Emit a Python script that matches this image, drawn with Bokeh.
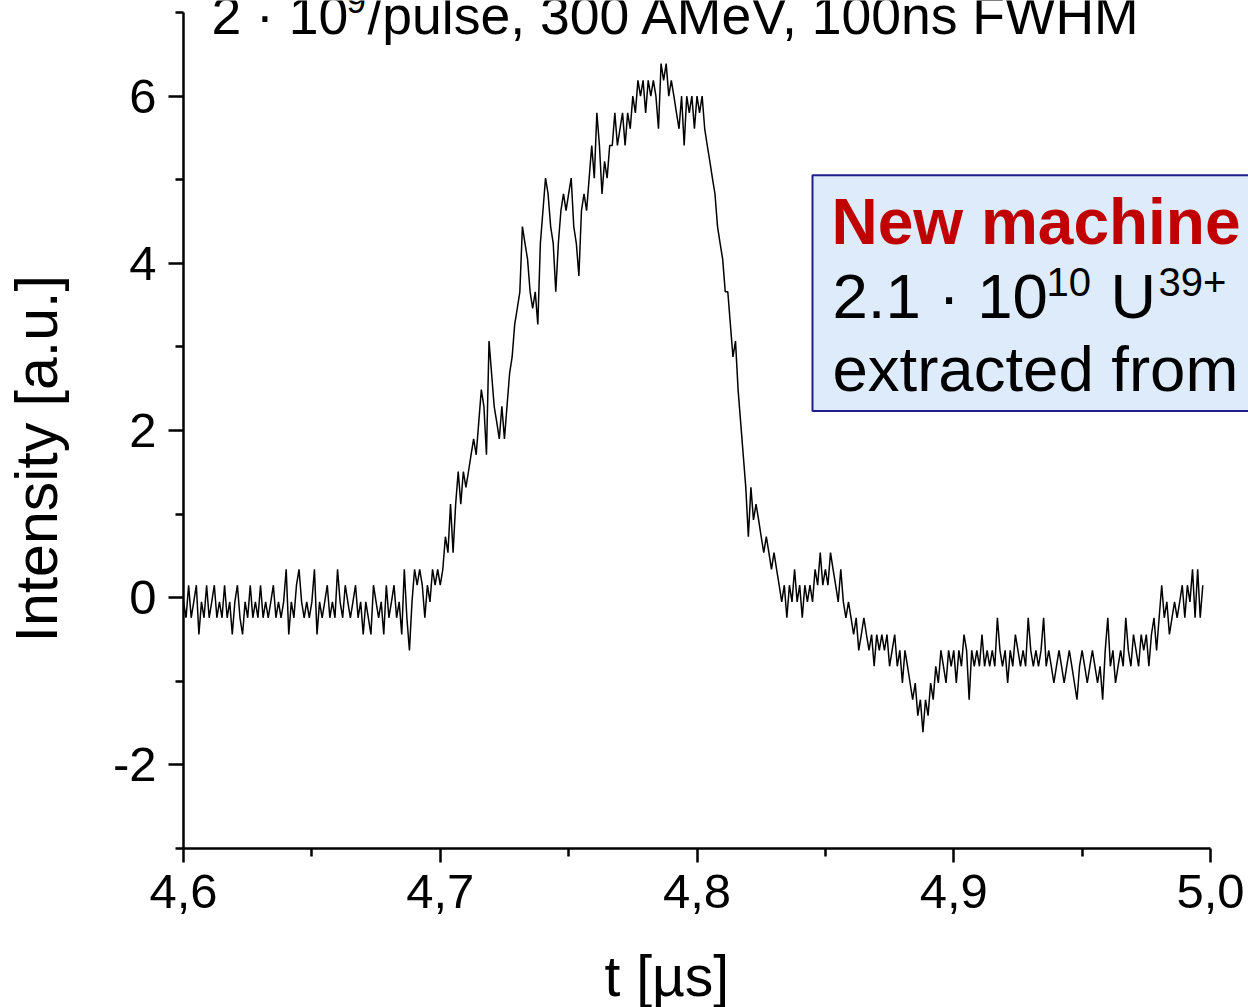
from bokeh.plotting import figure
from bokeh.models import Range1d, FixedTicker, CustomJSTickFormatter, Label, BoxAnnotation, Title, LinearAxis
from bokeh.embed import file_html
from bokeh.resources import INLINE

# ---------------- data ----------------
t_start = 4.600          # µs, first sample
t_step = 0.001           # µs, sample spacing

intensity = [
    -0.05, -0.24, 0.15, -0.24, -0.05, 0.15, -0.44, -0.05, -0.24, 0.15,
    -0.24, -0.05, 0.15, -0.24, -0.05, -0.24, 0.15, -0.24, -0.05, -0.44,
    -0.05, 0.15, -0.24, -0.44, -0.05, -0.24, 0.15, -0.24, -0.05, -0.24,
    0.15, -0.24, -0.05, -0.24, -0.05, 0.15, -0.24, -0.05, -0.24, -0.05,
    0.34, -0.44, -0.05, -0.24, 0.15, 0.34, -0.05, -0.24, -0.05, -0.24,
    -0.05, 0.34, -0.44, -0.05, -0.24, -0.05, 0.15, -0.24, -0.05, -0.24,
    0.34, -0.05, -0.24, 0.15, -0.05, -0.24, -0.05, 0.15, -0.24, -0.05,
    -0.44, -0.05, -0.24, -0.44, 0.15, -0.05, -0.24, -0.05, -0.44, 0.15,
    -0.24, -0.05, 0.15, -0.24, -0.05, -0.44, 0.34, -0.24, -0.63, -0.05,
    0.34, 0.15, 0.34, 0.15, -0.24, 0.15, -0.05, 0.34, 0.15, 0.34,
    0.15, 0.34, 0.73, 0.54, 1.12, 0.54, 1.12, 1.51, 1.12, 1.51,
    1.32, 1.51, 1.71, 1.90, 1.71, 2.10, 2.49, 2.29, 1.71, 3.07,
    2.68, 2.29, 2.10, 1.90, 2.29, 1.90, 2.29, 2.68, 2.88, 3.27,
    3.46, 3.66, 4.44, 4.24, 4.05, 3.66, 3.46, 3.66, 3.27, 4.24,
    4.63, 5.02, 4.83, 4.44, 4.24, 3.66, 4.24, 4.63, 4.83, 4.63,
    4.83, 5.02, 4.44, 4.24, 3.85, 4.63, 4.83, 4.63, 5.02, 5.41,
    5.02, 5.80, 5.41, 4.83, 5.22, 5.02, 5.41, 5.41, 5.80, 5.41,
    5.61, 5.80, 5.41, 5.80, 5.61, 6.00, 5.80, 6.19, 6.00, 6.19,
    5.80, 6.19, 6.00, 6.19, 6.00, 5.61, 6.39, 6.19, 6.39, 6.00,
    6.19, 6.00, 5.80, 5.61, 6.00, 5.41, 6.00, 5.80, 6.00, 5.61,
    6.00, 5.80, 6.00, 5.61, 5.41, 5.22, 5.02, 4.83, 4.44, 4.24,
    4.05, 3.66, 3.66, 3.27, 2.88, 3.07, 2.49, 2.10, 1.71, 1.32,
    0.73, 1.32, 0.93, 1.12, 0.93, 0.73, 0.54, 0.73, 0.54, 0.34,
    0.54, 0.34, 0.15, -0.05, 0.15, -0.24, 0.15, -0.05, 0.34, -0.05,
    0.15, -0.24, 0.15, -0.05, 0.15, -0.05, 0.34, 0.15, 0.54, 0.15,
    0.34, 0.15, 0.54, 0.34, 0.15, -0.05, 0.34, -0.05, -0.24, -0.05,
    -0.24, -0.44, -0.24, -0.63, -0.44, -0.24, -0.44, -0.63, -0.44, -0.82,
    -0.44, -0.63, -0.44, -0.63, -0.44, -0.82, -0.63, -0.44, -0.82, -0.63,
    -1.02, -0.63, -0.82, -1.02, -1.22, -1.02, -1.41, -1.22, -1.61, -1.22,
    -1.41, -1.02, -1.22, -0.82, -1.02, -0.63, -0.82, -1.02, -0.63, -0.82,
    -0.63, -1.02, -0.63, -0.82, -0.44, -0.63, -1.22, -0.63, -0.82, -0.63,
    -0.82, -0.44, -0.82, -0.63, -0.82, -0.63, -0.82, -0.24, -0.63, -0.82,
    -0.63, -1.02, -0.63, -0.82, -0.44, -0.63, -0.82, -0.63, -0.82, -0.24,
    -0.63, -0.82, -0.63, -0.82, -0.63, -0.24, -0.82, -0.63, -0.82, -1.02,
    -0.82, -0.63, -0.82, -1.02, -0.82, -0.63, -0.82, -1.02, -1.22, -0.82,
    -0.63, -0.82, -1.02, -0.82, -0.63, -0.82, -1.02, -0.82, -1.22, -0.63,
    -0.24, -0.82, -0.63, -1.02, -0.82, -0.63, -0.82, -0.24, -0.63, -0.82,
    -0.44, -0.63, -0.82, -0.44, -0.63, -0.44, -0.82, -0.44, -0.24, -0.63,
    -0.24, 0.15, -0.24, -0.05, -0.44, -0.24, -0.05, -0.24, -0.05, 0.15,
    -0.24, 0.15, -0.05, 0.34, -0.24, 0.34, -0.24, 0.15,
]
time_us = [round(t_start + t_step * i, 4) for i in range(len(intensity))]

x_major = [4.6, 4.7, 4.8, 4.9, 5.0]
x_minor = [4.65, 4.75, 4.85, 4.95]
y_major = [-2, 0, 2, 4, 6]
y_minor = [-3, -1, 1, 3, 5, 7]

title_main = "2 · 10"
title_sup = "9"
title_rest = "/pulse, 300 AMeV, 100ns FWHM"
box_head = "New machine"
box_l2a = "2.1 · 10"
box_l2b = "10"
box_l2c = "U"
box_l2d = "39+"
box_l3 = "extracted from"
x_title = "t [µs]"
y_title = "Intensity [a.u.]"

# ---------------- layout ----------------
W, H = 1248, 1007
L, B = 183, 158
FW, FH = W - L, H - B
X0 = 4.6
XPX = 1027 / 0.4           # px per µs
X1 = X0 + FW / XPX
Y0 = -3.0
YPX = 83.69                # px per unit
Y1 = Y0 + FH / YPX

def sx(px):
    return X0 + (px - L) / XPX

def sy(py):
    return Y1 - py / YPX

FONT = "Liberation Sans"

p = figure(width=W, height=H, x_range=Range1d(X0, X1), y_range=Range1d(Y0, Y1),
           output_backend="svg", toolbar_location=None,
           min_border_left=L, min_border_right=0, min_border_top=0, min_border_bottom=B)
p.outline_line_color = None
p.xgrid.grid_line_color = None
p.ygrid.grid_line_color = None
p.background_fill_color = "white"
p.border_fill_color = "white"

for ax in (p.xaxis[0], p.yaxis[0]):
    ax.axis_line_width = 2.5
    ax.axis_line_color = "black"
    ax.major_tick_line_width = 2.5
    ax.minor_tick_line_width = 2.5
    ax.major_tick_line_color = "black"
    ax.minor_tick_line_color = "black"
    ax.major_tick_in = 0
    ax.minor_tick_in = 0
    ax.major_label_text_font = FONT
    ax.major_label_text_font_size = "49px"
    ax.major_label_text_color = "black"

p.xaxis.ticker = FixedTicker(ticks=x_major, minor_ticks=x_minor)
p.xaxis.formatter = CustomJSTickFormatter(code="return tick.toFixed(1).replace('.', ',');")
p.xaxis.bounds = (4.6, 5.0)
p.xaxis.major_tick_out = 14
p.xaxis.minor_tick_out = 8
p.xaxis.major_label_standoff = 12

p.yaxis.ticker = FixedTicker(ticks=y_major, minor_ticks=y_minor)
p.yaxis.formatter = CustomJSTickFormatter(code="return tick.toFixed(0);")
p.yaxis.bounds = (-3, 7)
p.yaxis.major_tick_out = 15
p.yaxis.minor_tick_out = 8
p.yaxis.major_label_standoff = 12

# invisible spacer axes (one hidden tick, no line, blank label) that push the axis titles outward
def spacer(size, tick):
    return LinearAxis(ticker=FixedTicker(ticks=[tick], minor_ticks=[]),
                      formatter=CustomJSTickFormatter(code="return '';"),
                      axis_line_color=None,
                      major_tick_line_color=None, minor_tick_line_color=None,
                      major_tick_out=size, major_tick_in=0, minor_tick_out=0, minor_tick_in=0,
                      major_label_standoff=0, major_label_text_font_size="1px")

p.add_layout(spacer(31, 4.8), "below")
p.add_layout(spacer(40, 2.0), "left")

# axis titles as side panels
p.add_layout(Title(text=x_title, align="left", offset=421, standoff=0,
                   text_font=FONT, text_font_size="57px", text_font_style="normal",
                   text_color="black"), "below")
p.add_layout(Title(text=y_title, align="left", offset=206, standoff=0,
                   text_font=FONT, text_font_size="59px", text_font_style="normal",
                   text_color="black"), "left")

# box annotation behind the trace
p.add_layout(BoxAnnotation(left=sx(812), right=sx(1300), top=sy(175), bottom=sy(411),
                           fill_color="#DDEBFB", fill_alpha=1.0,
                           line_color="#1E1E8C", line_alpha=1.0, line_width=2,
                           level="underlay"))

p.line(time_us, intensity, line_color="black", line_width=1.5)

def lab(text, px, py, size, color="black", bold=False):
    # py is the desired alphabetic baseline in pixels; compensate the renderer's descent offset
    p.add_layout(Label(x=sx(px), y=sy(py - 0.33 * size), text=text, text_font=FONT,
                       text_font_size=f"{size}px", text_color=color,
                       text_font_style="bold" if bold else "normal",
                       text_align="left", text_baseline="alphabetic"))

# title
lab(title_main, 211, 33, 53.5)
lab(title_sup, 346, 12, 35)
lab(title_rest, 367, 33, 53.5)

# box texts
lab(box_head, 831, 243, 64, color="#C00000", bold=True)
lab(box_l2a, 832, 317, 63.5)
lab(box_l2b, 1046, 295, 40)
lab(box_l2c, 1110, 317, 63)
lab(box_l2d, 1158, 295, 40)
lab(box_l3, 832, 390, 63.5)

open("out.html", "w").write(file_html(p, INLINE))
